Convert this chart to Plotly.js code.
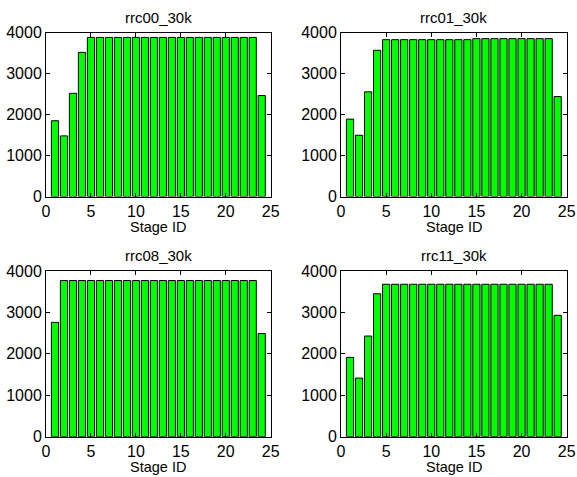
<!DOCTYPE html>
<html>
<head>
<meta charset="utf-8">
<script src="https://cdn.plot.ly/plotly-3.0.1.min.js"></script>
<style>html,body{margin:0;padding:0;background:#fff;}#chart{width:577px;height:477px;}</style>
</head>
<body>
<div id="chart"></div>
<script>
const stageIds = [1,2,3,4,5,6,7,8,9,10,11,12,13,14,15,16,17,18,19,20,21,22,23,24];
const titles = ["rrc00_30k", "rrc01_30k", "rrc08_30k", "rrc11_30k"];
const rrc00 = [1850,1480,2520,3520,3885,3885,3885,3885,3885,3885,3885,3885,3885,3885,3885,3885,3885,3885,3885,3885,3885,3885,3885,2465];
const rrc01 = [1890,1495,2555,3570,3830,3830,3830,3830,3830,3830,3830,3830,3830,3830,3855,3855,3855,3855,3855,3855,3855,3855,3855,2440];
const rrc08 = [2760,3770,3770,3770,3770,3770,3770,3770,3770,3770,3770,3770,3770,3770,3770,3770,3770,3770,3770,3770,3770,3770,3770,2490];
const rrc11 = [1915,1415,2430,3450,3680,3680,3680,3680,3680,3680,3680,3680,3680,3680,3680,3680,3680,3680,3680,3680,3680,3680,3680,2930];
const xTicks = [0,5,10,15,20,25];
const yTicks = [0,1000,2000,3000,4000];
const xLabel = "Stage ID";

const series = [rrc00, rrc01, rrc08, rrc11];
const W = 577, H = 477;
const boxes = [
  {l:46, r:270.7, t:32.7, b:196.5},
  {l:341, r:566.7, t:32.7, b:196.5},
  {l:46, r:270.7, t:271, b:436.7},
  {l:341, r:566.7, t:271, b:436.7}
];
const font = {family: "Liberation Sans, Arial, Helvetica, sans-serif", color: "#000"};
const data = [];
const layout = {
  width: W, height: H,
  margin: {l:0, r:0, t:0, b:0},
  paper_bgcolor: "#fff", plot_bgcolor: "#fff",
  showlegend: false,
  font: Object.assign({size: 16}, font),
  annotations: []
};
series.forEach((vals, i) => {
  const n = i + 1;
  const xa = n === 1 ? "x" : "x" + n;
  const ya = n === 1 ? "y" : "y" + n;
  data.push({
    type: "bar", x: stageIds, y: vals, xaxis: xa, yaxis: ya,
    width: 0.8,
    marker: {color: "#00ff00", line: {color: "#000", width: 1}},
    hoverinfo: "none"
  });
  const b = boxes[i];
  const axCommon = {
    showline: true, linecolor: "#000", linewidth: 1, mirror: "ticks",
    ticks: "inside", ticklen: 4, tickcolor: "#000", tickwidth: 1,
    showgrid: false, zeroline: false, fixedrange: true,
    tickfont: Object.assign({size: 16}, font)
  };
  layout["xaxis" + (n === 1 ? "" : n)] = Object.assign({}, axCommon, {
    domain: [b.l / W, b.r / W], range: [0, 25],
    tickmode: "array", tickvals: xTicks, ticktext: xTicks.map(String),
    anchor: ya
  });
  layout["yaxis" + (n === 1 ? "" : n)] = Object.assign({}, axCommon, {
    domain: [1 - b.b / H, 1 - b.t / H], range: [0, 4000],
    tickmode: "array", tickvals: yTicks, ticktext: yTicks.map(String),
    anchor: xa, ticklabelstandoff: 0
  });
  layout.annotations.push({
    text: titles[i], xref: "paper", yref: "paper",
    x: (b.l + b.r) / 2 / W, y: 1 - (b.t - 5) / H,
    xanchor: "center", yanchor: "bottom", showarrow: false,
    font: Object.assign({size: 15}, font)
  });
  layout.annotations.push({
    text: xLabel, xref: "paper", yref: "paper",
    x: (b.l + b.r) / 2 / W, y: 1 - (b.b + 20) / H,
    xanchor: "center", yanchor: "top", showarrow: false,
    font: Object.assign({size: 14.5}, font)
  });
});
Plotly.newPlot("chart", data, layout, {staticPlot: true, displayModeBar: false});
</script>
</body>
</html>
